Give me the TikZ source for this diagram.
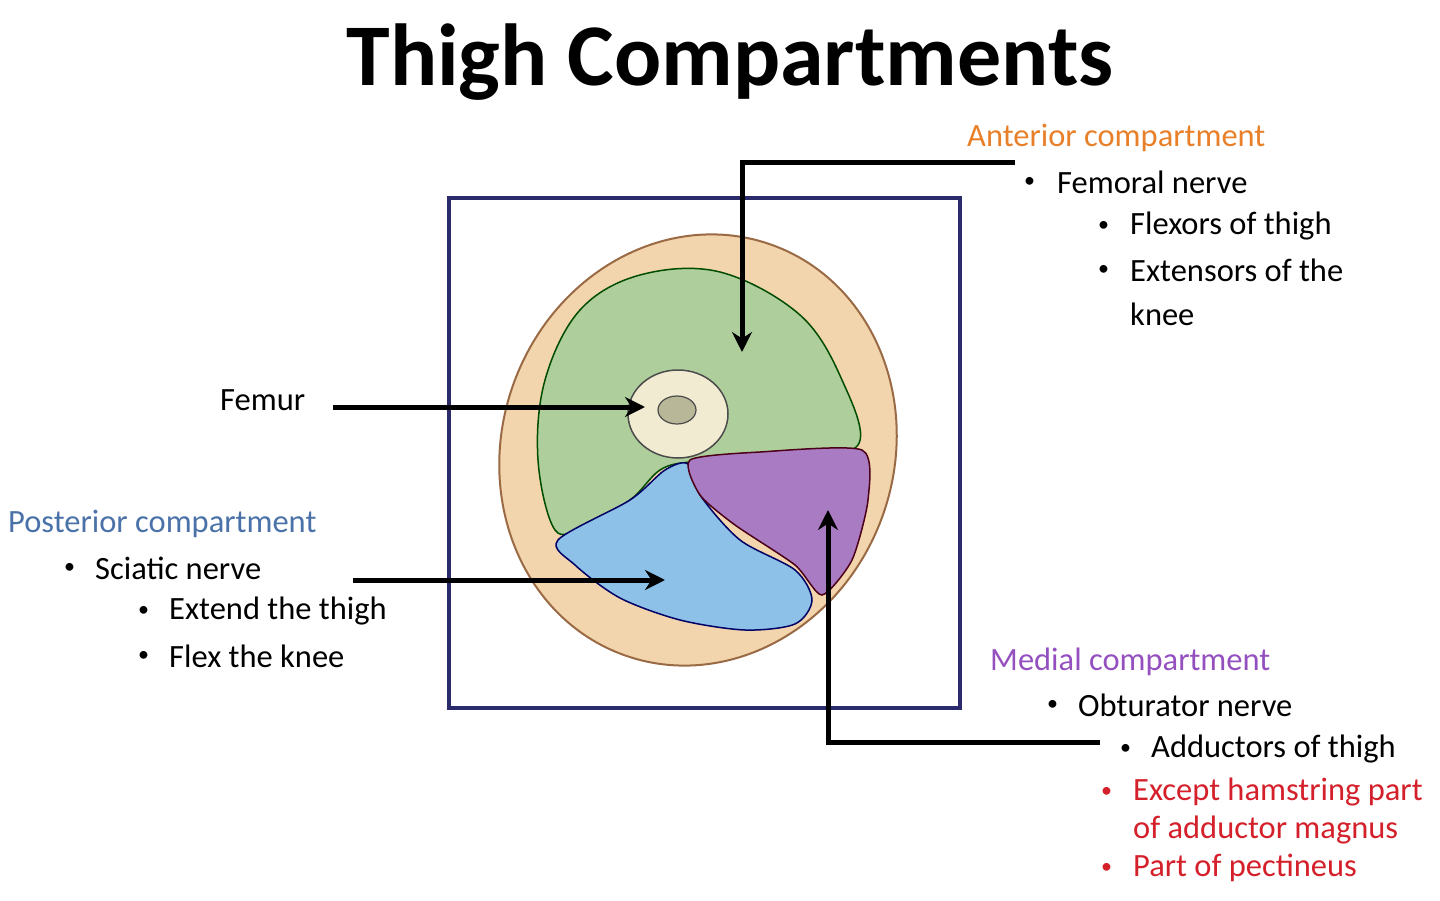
\documentclass[tikz,border=0pt]{standalone}
\usepackage{fontspec}
\setmainfont{Carlito}
\usetikzlibrary{arrows.meta}
\definecolor{skin}{HTML}{F2D5AC}
\definecolor{skinl}{HTML}{9A6A45}
\definecolor{ant}{HTML}{AECF9C}
\definecolor{post}{HTML}{8DC1E8}
\definecolor{med}{HTML}{A97BC2}
\definecolor{bone}{HTML}{F1EBD2}
\definecolor{marrow}{HTML}{B8B898}
\definecolor{navy}{HTML}{2B2A6B}
\definecolor{orng}{HTML}{E8802A}
\definecolor{blu}{HTML}{4A72A8}
\definecolor{purp}{HTML}{9550C0}
\definecolor{rd}{HTML}{D4202A}
\begin{document}
\begin{tikzpicture}[x=1pt,y=-1pt,
  txt/.style={anchor=west,inner sep=0pt,font=\fontsize{32.5}{36}\selectfont},
  bul/.style={anchor=west,inner sep=0pt,font=\fontsize{22}{26}\selectfont},
  arr/.style={line width=5pt,-{Stealth[length=20pt,width=20pt]}},
  musc/.style={draw=black!70!green,line width=1.5pt}]
\useasboundingbox (0,0) rectangle (1440,901);
\node[font=\fontsize{88}{96}\bfseries\selectfont] (title) at (730,62) {Thigh Compartments};
\node[draw=navy,line width=4pt,minimum width=511pt,minimum height=510pt,anchor=north west] (box) at (447,196) {};
\fill[skin,draw=skinl,line width=2pt,rotate around={-20:(698,450)}] (698,450) ellipse (196pt and 218pt);
\path[musc,fill=ant] plot[smooth cycle,tension=0.6] coordinates{(555,530) (538,460) (545,380) (580,310) (640,275) (720,272) (800,315) (842,380) (858,445) (790,455) (730,462) (690,462) (660,470) (630,500) (585,525)};
\path[musc,draw=black!60!blue,fill=post] plot[smooth cycle,tension=0.5] coordinates{(558,540) (630,500) (665,470) (688,464) (700,495) (740,540) (795,570) (812,600) (795,624) (745,630) (680,620) (620,598) (575,565)};
\path[musc,draw=black!60!purple,fill=med] plot[smooth cycle,tension=0.4] coordinates{(690,460) (760,452) (862,450) (868,500) (852,560) (822,595) (795,565) (735,525) (700,495)};
\fill[bone,draw=black!70,line width=1.5pt] (678,414) ellipse (50pt and 44pt);
\fill[marrow,draw=black!70,line width=1.2pt] (677,410) ellipse (19pt and 14pt);
\coordinate (a0) at (1015,163); \coordinate (a1) at (742,163); \coordinate (a2) at (742,352);
\draw[arr] (a0) -- (a1) -- (a2);
\coordinate (f0) at (333,407); \coordinate (f1) at (645,407);
\draw[arr] (f0) -- (f1);
\coordinate (p0) at (353,580); \coordinate (p1) at (665,580);
\draw[arr] (p0) -- (p1);
\coordinate (m0) at (1100,742); \coordinate (m1) at (828,742); \coordinate (m2) at (828,510);
\draw[arr] (m0) -- (m1) -- (m2);
\node[txt,text=orng] (at) at (967,138) {Anterior compartment};
\node[bul] (b1) at (1024,182) {•}; \node[txt] (t1) at (1057,182) {Femoral nerve};
\node[bul] (b2) at (1098,226) {•}; \node[txt] (t2) at (1130,226) {Flexors of thigh};
\node[bul] (b3) at (1098,270) {•}; \node[txt] (t3) at (1130,270) {Extensors of the};
\node[txt] (t4) at (1130,314) {knee};
\node[txt] (fe) at (220,400) {Femur};
\node[txt,text=blu] (pt) at (8,524) {Posterior compartment};
\node[bul] (b5) at (64,568) {•}; \node[txt] (t5) at (95,568) {Sciatic nerve};
\node[bul] (b6) at (138,611) {•}; \node[txt] (t6) at (169,611) {Extend the thigh};
\node[bul] (b7) at (138,656) {•}; \node[txt] (t7) at (169,656) {Flex the knee};
\node[txt,text=purp] (mt) at (990,662) {Medial compartment};
\node[bul] (b8) at (1047,705) {•}; \node[txt] (t8) at (1078,705) {Obturator nerve};
\node[bul] (b9) at (1120,749) {•}; \node[txt] (t9) at (1151,749) {Adductors of thigh};
\node[bul,text=rd] (b10) at (1101,792) {•}; \node[txt,text=rd] (t10) at (1133,792) {Except hamstring part};
\node[txt,text=rd] (t11) at (1133,830) {of adductor magnus};
\node[bul,text=rd] (b12) at (1101,868) {•}; \node[txt,text=rd] (t12) at (1133,868) {Part of pectineus};
\end{tikzpicture}
\end{document}
